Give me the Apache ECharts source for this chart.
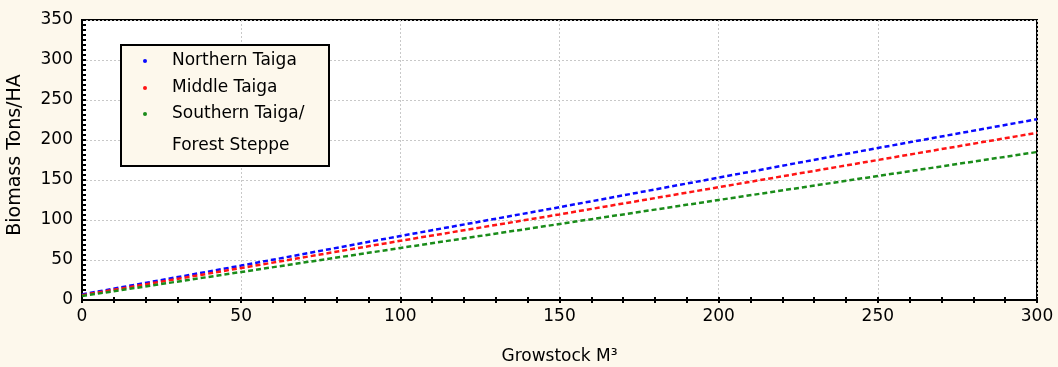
<!DOCTYPE html>
<html>
<head>
<meta charset="utf-8">
<script src="https://cdn.jsdelivr.net/npm/echarts@6/dist/echarts.min.js"></script>
<style>
html,body{margin:0;padding:0;background:#fdf8ec;}
#c{width:1058px;height:367px;}
</style>
</head>
<body>
<div id="c"></div>
<script>
const growstock = [0, 50, 100, 150, 200, 250, 300];
const northernTaiga = [7, 43, 80, 116, 153, 190, 226];
const middleTaiga = [6, 40, 74, 107, 141, 175, 209];
const southernTaiga = [5, 35, 65, 95, 125, 155, 185];
const seriesNames = ['Northern Taiga', 'Middle Taiga', 'Southern Taiga/\nForest Steppe'];
const xTitle = 'Growstock M³';
const yTitle = 'Biomass Tons/HA';

const FONT = 'DejaVu Sans';
const chart = echarts.init(document.getElementById('c'));
function pairs(ys){ return growstock.map((x,i)=>[x, ys[i]]); }
const colors = ['#0a0aff', '#ff1414', '#1a8c1a'];
const allData = [northernTaiga, middleTaiga, southernTaiga];
const baseText = {fontFamily: FONT, fontSize: 17, color: '#000'};
const legendItems = seriesNames.map((n,i)=>({name: n, itemStyle: {color: colors[i]}}));

chart.setOption({
  backgroundColor: '#fdf8ec',
  animation: false,
  grid: {left: 82, right: 21, top: 20, bottom: 67, outerBoundsMode: 'none', containLabel: false,
         show: true, backgroundColor: '#ffffff', borderColor: '#000', borderWidth: 2},
  graphic: [{
    type: 'rect', left: 120, top: 44, z: 100,
    shape: {width: 208, height: 121},
    style: {fill: '#fdf8ec', stroke: '#000', lineWidth: 2}
  }],
  legend: [{
    orient: 'vertical', left: 143, top: 52, z: 110, padding: 0,
    itemWidth: 4, itemHeight: 4, itemGap: 9, icon: 'circle',
    textStyle: Object.assign({}, baseText, {padding: [0,0,0,20], lineHeight: 18}),
    data: legendItems.slice(0, 2)
  }, {
    orient: 'vertical', left: 143, top: 66, z: 110, padding: 0,
    itemWidth: 4, itemHeight: 4, icon: 'circle',
    textStyle: Object.assign({}, baseText, {padding: [0,0,0,20], lineHeight: 32}),
    formatter: n => ' \n' + n,
    data: legendItems.slice(2)
  }],
  xAxis: [{
    type: 'value', min: 0, max: 300, interval: 50,
    name: xTitle, nameLocation: 'middle', nameGap: 48,
    nameTextStyle: baseText,
    axisLine: {show: true, lineStyle: {color: '#000', width: 2}},
    axisTick: {show: true, inside: true, length: 3, lineStyle: {color: '#000', width: 2}},
    minorTick: {show: true, splitNumber: 5, length: 3, lineStyle: {color: '#000', width: 2}},
    axisLabel: Object.assign({}, baseText, {margin: 8}),
    splitLine: {show: true, lineStyle: {color: '#c8c8c8', type: [2,2], width: 1}}
  }, {
    type: 'value', min: 0, max: 300, interval: 50, position: 'top',
    axisLine: {show: true, lineStyle: {color: '#000', width: 2}},
    axisTick: {show: true, inside: true, length: 3, lineStyle: {color: '#000', width: 2}},
    minorTick: {show: true, splitNumber: 5, length: 3, lineStyle: {color: '#000', width: 2}},
    axisLabel: {show: false}, splitLine: {show: false}
  }],
  yAxis: [{
    type: 'value', min: 0, max: 350, interval: 50,
    name: yTitle, nameLocation: 'middle', nameGap: 57, nameRotate: 90,
    nameTextStyle: Object.assign({}, baseText, {fontSize: 19, padding: [0,0,0,10]}),
    axisLine: {show: true, lineStyle: {color: '#000', width: 2}},
    axisTick: {show: true, inside: true, length: 4, lineStyle: {color: '#000', width: 2}},
    minorTick: {show: true, splitNumber: 8, length: 4, lineStyle: {color: '#000', width: 2}},
    axisLabel: Object.assign({}, baseText, {margin: 9}),
    splitLine: {show: true, lineStyle: {color: '#c8c8c8', type: [2,2], width: 1}}
  }, {
    type: 'value', min: 0, max: 350, interval: 50, position: 'right',
    axisLine: {show: true, lineStyle: {color: '#000', width: 2}},
    axisTick: {show: true, inside: false, length: 3, lineStyle: {color: '#000', width: 2}},
    minorTick: {show: true, splitNumber: 8, length: 3, lineStyle: {color: '#000', width: 2}},
    axisLabel: {show: false}, splitLine: {show: false}
  }],
  series: seriesNames.map((n,i)=>({
    name: n, type: 'line', data: pairs(allData[i]), symbol: 'none', z: 5,
    itemStyle: {color: colors[i]},
    lineStyle: {color: colors[i], width: 2.5, type: [5,3]}
  }))
});
</script>
</body>
</html>
